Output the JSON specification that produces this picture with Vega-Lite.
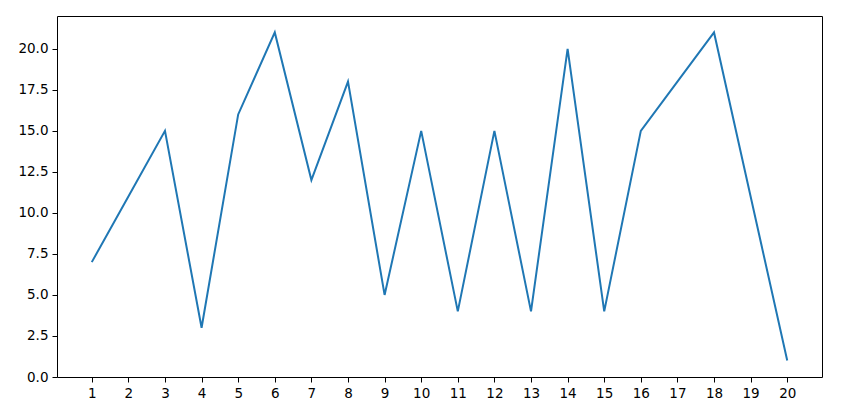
{
  "$schema": "https://vega.github.io/schema/vega-lite/v6.json",
  "width": 765,
  "height": 361,
  "autosize": {"type": "none"},
  "padding": {"left": 57, "top": 16, "right": 32, "bottom": 39},
  "background": "white",
  "config": {
    "view": {"stroke": "black", "strokeWidth": 1},
    "axis": {
      "grid": false,
      "domain": false,
      "tickColor": "black",
      "tickSize": 5,
      "tickWidth": 1,
      "labelColor": "black",
      "labelFont": "DejaVu Sans",
      "labelFontSize": 13.5,
      "labelPadding": 4,
      "title": null
    }
  },
  "data": {
    "values": [
      {"x": 1, "y": 7}, {"x": 2, "y": 11}, {"x": 3, "y": 15}, {"x": 4, "y": 3},
      {"x": 5, "y": 16}, {"x": 6, "y": 21}, {"x": 7, "y": 12}, {"x": 8, "y": 18},
      {"x": 9, "y": 5}, {"x": 10, "y": 15}, {"x": 11, "y": 4}, {"x": 12, "y": 15},
      {"x": 13, "y": 4}, {"x": 14, "y": 20}, {"x": 15, "y": 4}, {"x": 16, "y": 15},
      {"x": 17, "y": 18}, {"x": 18, "y": 21}, {"x": 19, "y": 11}, {"x": 20, "y": 1}
    ]
  },
  "mark": {"type": "line", "color": "#1f77b4", "strokeWidth": 2, "clip": true},
  "encoding": {
    "x": {
      "field": "x",
      "type": "quantitative",
      "scale": {"domain": [0.05, 20.95], "nice": false, "zero": false},
      "axis": {"values": [1,2,3,4,5,6,7,8,9,10,11,12,13,14,15,16,17,18,19,20], "format": "d", "labelFlush": false, "labelOverlap": false}
    },
    "y": {
      "field": "y",
      "type": "quantitative",
      "scale": {"domain": [0, 22], "nice": false},
      "axis": {"values": [0, 2.5, 5, 7.5, 10, 12.5, 15, 17.5, 20], "format": ".1f", "labelFlush": false, "labelOverlap": false}
    }
  }
}
